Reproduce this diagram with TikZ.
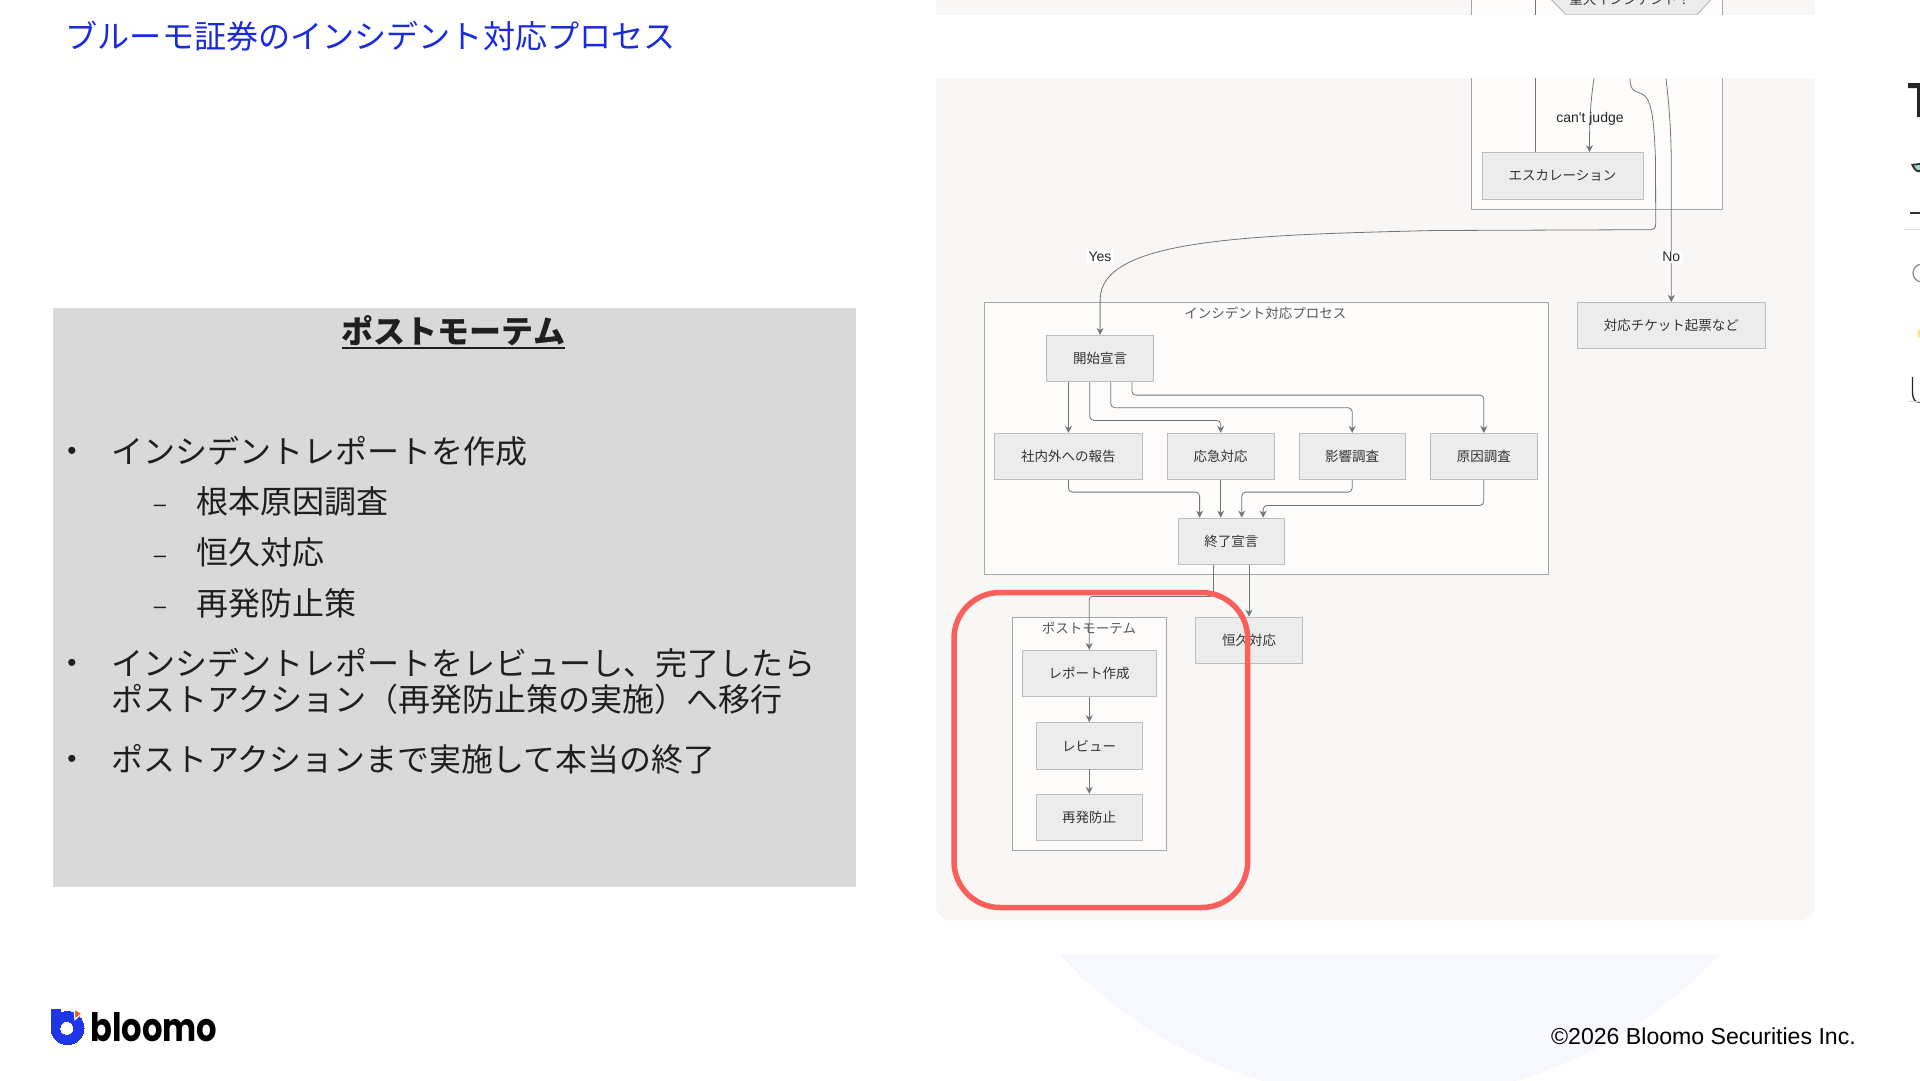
\documentclass[tikz,border=0pt]{standalone}
\usepackage{fontspec}
\usepackage{graphicx}
\usepackage{xcolor}
\usepackage{tikz}
\usetikzlibrary{arrows.meta,calc}
\setmainfont{Noto Sans CJK JP}
\newfontfamily\latinfont{Liberation Sans}
\newfontfamily\logofont{Poppins}
\newcommand{\fsz}[1]{\fontsize{#1}{#1}\selectfont}
\definecolor{panelbg}{HTML}{F9F7F5}
\definecolor{boxfill}{HTML}{ECECEC}
\definecolor{boxline}{HTML}{BDBDBD}
\definecolor{groupline}{HTML}{A6A6A6}
\definecolor{edgegray}{HTML}{747474}
\definecolor{slidegray}{HTML}{D9D9D9}
\definecolor{inktext}{HTML}{1F1F1F}
\definecolor{titleblue}{HTML}{1A2BDD}
\definecolor{alertred}{HTML}{FA5F5C}
\definecolor{logoblue}{HTML}{1F36E6}
\definecolor{logoorange}{HTML}{EE5A1E}
\definecolor{bubble}{HTML}{F7F8FD}
\tikzset{
flowbox/.style={draw=boxline,fill=boxfill,line width=.8pt,text=black!80,inner sep=0pt,minimum height=46.4pt,font=\fsz{13.5}},
groupbox/.style={draw=groupline,fill=white!60!panelbg,line width=.8pt,inner sep=0pt},
grouplabel/.style={text=black!65,inner sep=0pt,font=\fsz{13.5}},
edgelabel/.style={text=black!85,inner sep=1.5pt,font=\latinfont\fsz{14}},
edgeline/.style={draw=edgegray,line width=.8pt,-{Stealth[length=7pt,width=7pt]}},
plainline/.style={draw=edgegray,line width=.8pt},
bodyline/.style={anchor=west,text=inktext,inner sep=0pt,font=\fsz{32}},
bulletmark/.style={text=inktext,inner sep=0pt,font=\latinfont\fsz{26}}
}
\begin{document}
\begin{tikzpicture}[x=1pt,y=-1pt]
\useasboundingbox (0,0) rectangle (1920,1080);
\fill[white] (0,0) rectangle (1920,1080);
\begin{scope}
\clip (1000,955) rectangle (1800,1080);
\fill[bubble] (1389,651) circle[radius=448];
\end{scope}
\node[anchor=west,text=titleblue,inner sep=0pt,font=\fsz{32.1}] (slidetitle) at (65.5,36.3) {ブルーモ証券のインシデント対応プロセス};
\fill[slidegray] (53,307.5) rectangle (855.5,887);
\node[text=inktext,inner sep=0pt,font=\bfseries\fsz{32}] (posthead) at (453.5,331) {ポストモーテム};
\draw[inktext,line width=2pt] (posthead.west|-0,348)--(posthead.east|-0,348);
\node[bulletmark] (mark1) at (72,453) {•};
\node[bodyline] (line1) at (111.5,451) {インシデントレポートを作成};
\node[bulletmark,font=\latinfont\fsz{22}] (dash1) at (160,508) {–};
\node[bodyline] (sub1) at (196,501) {根本原因調査};
\node[bulletmark,font=\latinfont\fsz{22}] (dash2) at (160,559) {–};
\node[bodyline] (sub2) at (196,552) {恒久対応};
\node[bulletmark,font=\latinfont\fsz{22}] (dash3) at (160,610) {–};
\node[bodyline] (sub3) at (196,603) {再発防止策};
\node[bulletmark] (mark2) at (72,665) {•};
\node[bodyline] (line2) at (111.5,663) {インシデントレポートをレビューし、完了したら};
\node[bodyline] (line3) at (111.5,699) {ポストアクション（再発防止策の実施）へ移行};
\node[bulletmark] (mark3) at (72,761) {•};
\node[bodyline,font=\fsz{31.9}] (line4) at (111.5,759) {ポストアクションまで実施して本当の終了};
\fill[panelbg] (936,0) rectangle (1815,14.7);
\begin{scope}
\clip (936,0) rectangle (1815,14.7);
\draw[groupbox] (1471.5,-5) rectangle (1722.3,30);
\draw[plainline] (1535.7,-5)--(1535.7,20);
\draw[draw=boxline,fill=boxfill,line width=.8pt] (1546,-6)--(1566,14.7)--(1697,14.7)--(1716,-6)--cycle;
\draw[draw=boxline,line width=.8pt] (1551.7,0)--(1566,14.7) (1697,14.7)--(1710.7,0);
\node[text=black!80,inner sep=0pt,font=\fsz{13.5}] (judgeinc) at (1630,-.3) {重大インシデント？};
\end{scope}
\fill[panelbg] (936,78.3)--(1815,78.3)[rounded corners=15pt]--(1815,920)--(936,920)[sharp corners]--cycle;
\draw[groupbox] (1471.7,78.3)--(1471.7,209.3)--(1722.3,209.3)--(1722.3,78.3);
\node[flowbox,minimum width=161pt] (escal) at (1562.5,175.7) {エスカレーション};
\node[flowbox,minimum width=188.7pt] (ticket) at (1671.3,325.5) {対応チケット起票など};
\node[groupbox,minimum width=563.5pt,minimum height=271.6pt] (incident) at (1266.2,438.5) {};
\node[grouplabel] (incidentlabel) at (1265.4,313) {インシデント対応プロセス};
\node[flowbox,minimum width=107.2pt] (kaishi) at (1100.1,358.5) {開始宣言};
\node[flowbox,minimum width=147.7pt] (houkoku) at (1068.4,456.5) {社内外への報告};
\node[flowbox,minimum width=106.4pt] (oukyu) at (1220.7,456.5) {応急対応};
\node[flowbox,minimum width=106.4pt] (eikyou) at (1352.2,456.5) {影響調査};
\node[flowbox,minimum width=106.8pt] (genin) at (1483.8,456.5) {原因調査};
\node[flowbox,minimum width=106.4pt] (shuryo) at (1231.4,541.2) {終了宣言};
\node[groupbox,minimum width=153.7pt,minimum height=233.7pt] (postbox) at (1089.2,733.8) {};
\node[grouplabel] (postlabel) at (1089,627.7) {ポストモーテム};
\node[flowbox,minimum width=133.7pt] (report) at (1089.2,673.5) {レポート作成};
\node[flowbox,minimum width=106.3pt] (review) at (1089.2,745.7) {レビュー};
\node[flowbox,minimum width=106.3pt] (saihatsu) at (1089.2,817.4) {再発防止};
\node[flowbox,minimum width=106.6pt] (koukyu) at (1249,640.2) {恒久対応};
\coordinate (stubleft) at (1535.7,78.3);
\coordinate (judgeout) at (1594,78.3);
\coordinate (yesout) at (1630,78.3);
\coordinate (noout) at (1666,78.3);
\draw[plainline] (stubleft)--(stubleft|-escal.north);
\draw[edgeline] (judgeout)..controls (1590,105) and (1589.5,125)..([xshift=27pt]escal.north);
\draw[edgeline] (noout)..controls (1669,105) and (1671.3,130)..(1671.3,170)--(ticket.north);
\draw[edgeline] (yesout)..controls (1630,92) and (1636,91)..(1641,93.5)..controls (1652,97) and (1654,120)..(1655.5,160)--(1655.7,224)..controls (1655.7,228) and (1654,229.7)..(1651,229.7)--(1435,230.5)..controls (1240,235) and (kaishi.north|-0,240)..(kaishi.north|-0,300)--(kaishi.north);
\node[edgelabel] (cantlabel) at (1590,119) {can't judge};
\node[edgelabel,fill=white] (yeslabel) at (1100,256.7) {Yes};
\node[edgelabel,fill=white] (nolabel) at (1671.3,257) {No};
\draw[edgeline] ([xshift=-31.7pt]kaishi.south|-kaishi.south)--(houkoku.north);
\draw[edgeline,rounded corners=4pt] ([xshift=-10.3pt]kaishi.south)--++(0,38.3)-|(oukyu.north);
\draw[edgeline,rounded corners=4pt] ([xshift=10.7pt]kaishi.south)--++(0,25.6)-|(eikyou.north);
\draw[edgeline,rounded corners=4pt] ([xshift=31.8pt]kaishi.south)--++(0,13)-|(genin.north);
\draw[edgeline,rounded corners=4pt] (houkoku.south)--++(0,12)-|([xshift=-31.8pt]shuryo.north);
\draw[edgeline] (oukyu.south)--(oukyu.south|-shuryo.north);
\draw[edgeline,rounded corners=4pt] (eikyou.south)--++(0,12)-|([xshift=10.3pt]shuryo.north);
\draw[edgeline,rounded corners=4pt] (genin.south)--++(0,25.3)-|([xshift=31.7pt]shuryo.north);
\draw[edgeline,rounded corners=3pt] ([xshift=-18pt]shuryo.south)--++(0,31.7)-|(report.north);
\draw[edgeline] ([xshift=17.6pt]shuryo.south)--(koukyu.north);
\draw[edgeline] (report)--(review);
\draw[edgeline] (review)--(saihatsu);
\draw[alertred,line width=5.5pt,rounded corners=46pt] (954,592.5) rectangle (1247.7,907.5);
\draw[logoblue,line width=0pt,fill=logoblue,even odd rule] (67.5,1028) circle[radius=16.5] (66.7,1028.3) circle[radius=7];
\fill[logoblue] (51,1009) rectangle (60.5,1028);
\filldraw[fill=logoorange,draw=white,line width=1.2pt] (74,1009)--(82,1013.3)--(75,1019.5)--cycle;
\node[anchor=west,text=black,inner sep=0pt,font=\logofont\bfseries\fsz{35}] (logoword) at (90,1027) {\scalebox{.92}[1.12]{bloomo}};
\node[anchor=east,text=black,inner sep=0pt,font=\latinfont\fsz{23.1}] (copyright) at (1856,1036.5) {©2026 Bloomo Securities Inc.};
\begin{scope}
\clip (1900,60) rectangle (1920,420);
\fill[black!85] (1908,83) rectangle (1920,88) (1917,83) rectangle (1920,117);
\fill[black!80] (1911,164)..controls (1914,172) and (1918,173)..(1920,172)--(1920,163)--cycle;
\fill[teal!35] (1914,165.5)..controls (1916,170) and (1918,170.5)..(1920,170)--(1920,165)--cycle;
\draw[black!80,line width=1.8pt] (1910,213.3)--(1920,213.3);
\draw[black!15,line width=.8pt] (1904,229.4)--(1920,229.4);
\draw[black!45,line width=1.3pt] (1922,273) circle[radius=9];
\fill[yellow!50!orange!40] (1921,333.5) ellipse[x radius=4,y radius=5];
\draw[black!85,line width=1.3pt] (1912.5,377)--(1912.5,392)..controls (1912.5,400) and (1916,403)..(1920,402);
\draw[black!15,line width=.8pt] (1908,401.7)--(1920,401.7);
\end{scope}
\end{tikzpicture}
\end{document}
